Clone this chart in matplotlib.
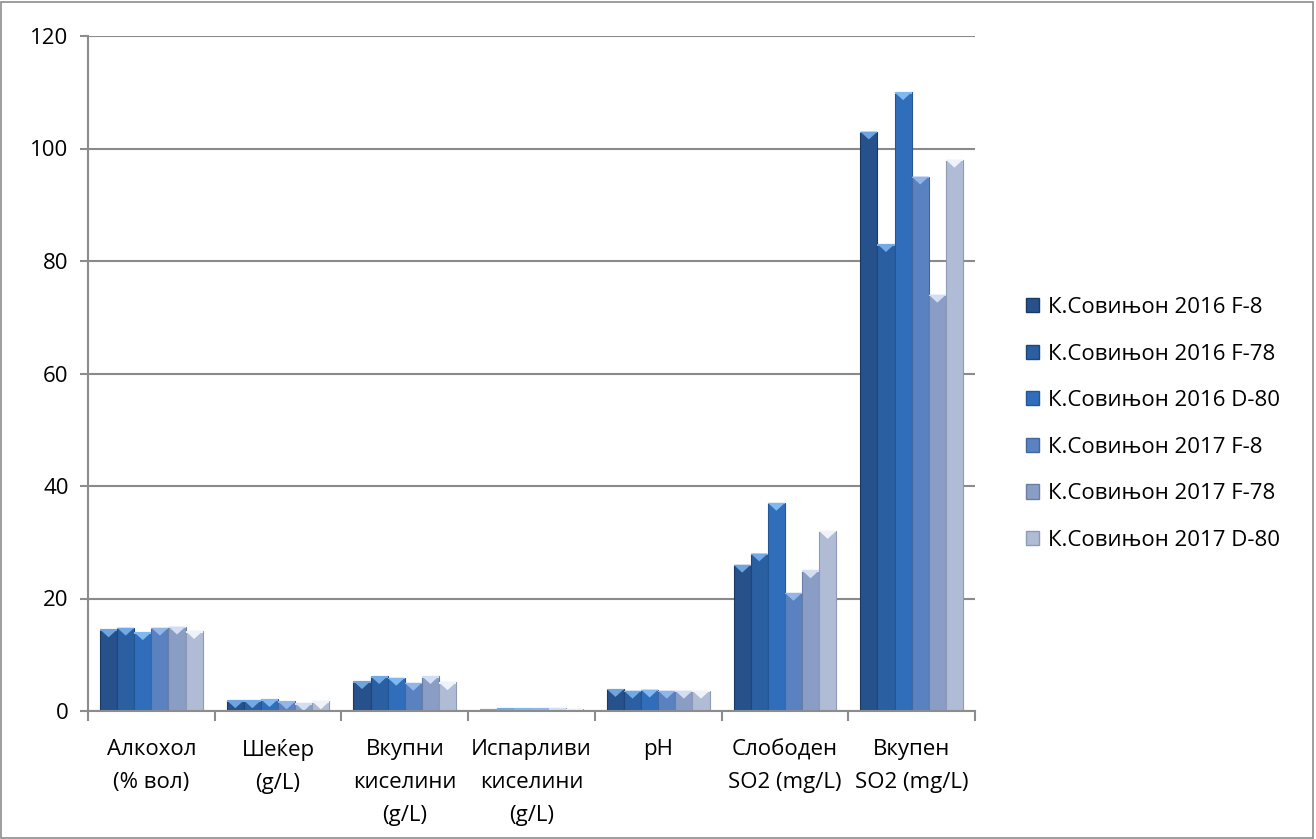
import matplotlib.pyplot as plt
import numpy as np
from matplotlib.patches import Rectangle, Polygon

plt.rcParams['font.family'] = ['Open Sans', 'DejaVu Sans']

categories = ['Алкохол\n(% вол)', 'Шеќер\n(g/L)', 'Вкупни\nкиселини\n(g/L)',
              'Испарливи\nкиселини\n(g/L)', 'pH', 'Слободен\nSO2 (mg/L)',
              'Вкупен\nSO2 (mg/L)']
series_names = ['К.Совињон 2016 F-8', 'К.Совињон 2016 F-78', 'К.Совињон 2016 D-80',
                'К.Совињон 2017 F-8', 'К.Совињон 2017 F-78', 'К.Совињон 2017 D-80']
s2016_f8 = [14.5, 1.9, 5.3, 0.3, 3.9, 26, 103]
s2016_f78 = [14.8, 1.9, 6.2, 0.5, 3.6, 28, 83]
s2016_d80 = [14.0, 2.1, 5.9, 0.5, 3.8, 37, 110]
s2017_f8 = [14.8, 1.7, 5.0, 0.45, 3.6, 21, 95]
s2017_f78 = [15.0, 1.4, 6.2, 0.45, 3.6, 25, 74]
s2017_d80 = [14.2, 1.7, 5.1, 0.4, 3.6, 32, 98]
series = [s2016_f8, s2016_f78, s2016_d80, s2017_f8, s2017_f78, s2017_d80]

body = ['#26518a', '#2a5fa2', '#306ebb', '#5a82c0', '#8a9dc4', '#b0bcd5']
edge = ['#1a3a66', '#1d467c', '#235697', '#43669e', '#6a7da5', '#8d99b5']
bevel = ['#6ea5e0', '#72aae8', '#80b8f0', '#92b6ea', '#d2def2', '#eef2f9']

fig = plt.figure(figsize=(13.16, 8.39), dpi=100)
ax = fig.add_axes([88 / 1316, 128 / 839, 887 / 1316, 675 / 839])

x = np.arange(len(categories))
width = 0.135
bevel_h = 1.4  # height of the top chevron in data units

for i, vals in enumerate(series):
    offs = (i - 2.5) * width
    for xc, v in zip(x, vals):
        left = xc + offs - width / 2
        ax.add_patch(Rectangle((left, 0), width, v, facecolor=body[i],
                               edgecolor=edge[i], linewidth=0.8, zorder=3))
        h = min(bevel_h, v)
        ax.add_patch(Polygon([(left, v), (left + width, v), (left + width / 2, v - h)],
                             closed=True, facecolor=bevel[i], edgecolor='none',
                             zorder=4))
        ax.add_patch(Rectangle((left, v - min(0.25, v)), width, min(0.25, v),
                               facecolor=bevel[i], edgecolor='none', zorder=4))

ax.set_xlim(-0.5, len(categories) - 0.5)
ax.set_ylim(0, 120)
ax.set_yticks(np.arange(0, 121, 20))
ax.set_xticks(x)
ax.set_xticklabels(categories, fontsize=16, linespacing=1.75)
ax.set_xticks(np.arange(-0.5, len(categories), 1), minor=True)
ax.tick_params(axis='x', which='major', length=0, pad=20)
ax.tick_params(axis='x', which='minor', length=7, width=1.5, color='#8c8c8c')
ax.tick_params(axis='y', length=6, width=1.5, color='#8c8c8c', labelsize=16, pad=8)

ax.grid(axis='y', color='#8a8a8a', linewidth=1.5, zorder=0)
ax.set_axisbelow(True)
for side in ['top', 'right']:
    ax.spines[side].set_visible(False)
for side in ['left', 'bottom']:
    ax.spines[side].set_color('#8c8c8c')
    ax.spines[side].set_linewidth(1.5)
    ax.spines[side].set_zorder(5)

handles = [Rectangle((0, 0), 1, 1, facecolor=body[i], edgecolor=edge[i])
           for i in range(len(series))]
fig.legend(handles, series_names, loc='center left',
           bbox_to_anchor=(1006 / 1316, 1 - 424 / 839), frameon=False,
           fontsize=16, handlelength=0.6, handleheight=0.6, handletextpad=0.4,
           labelspacing=1.15)

fig.add_artist(Rectangle((0.001, 0.001), 0.997, 0.997, transform=fig.transFigure,
                         fill=False, edgecolor='#8c8c8c', linewidth=1.2))

fig.savefig('out.png', dpi=100)
